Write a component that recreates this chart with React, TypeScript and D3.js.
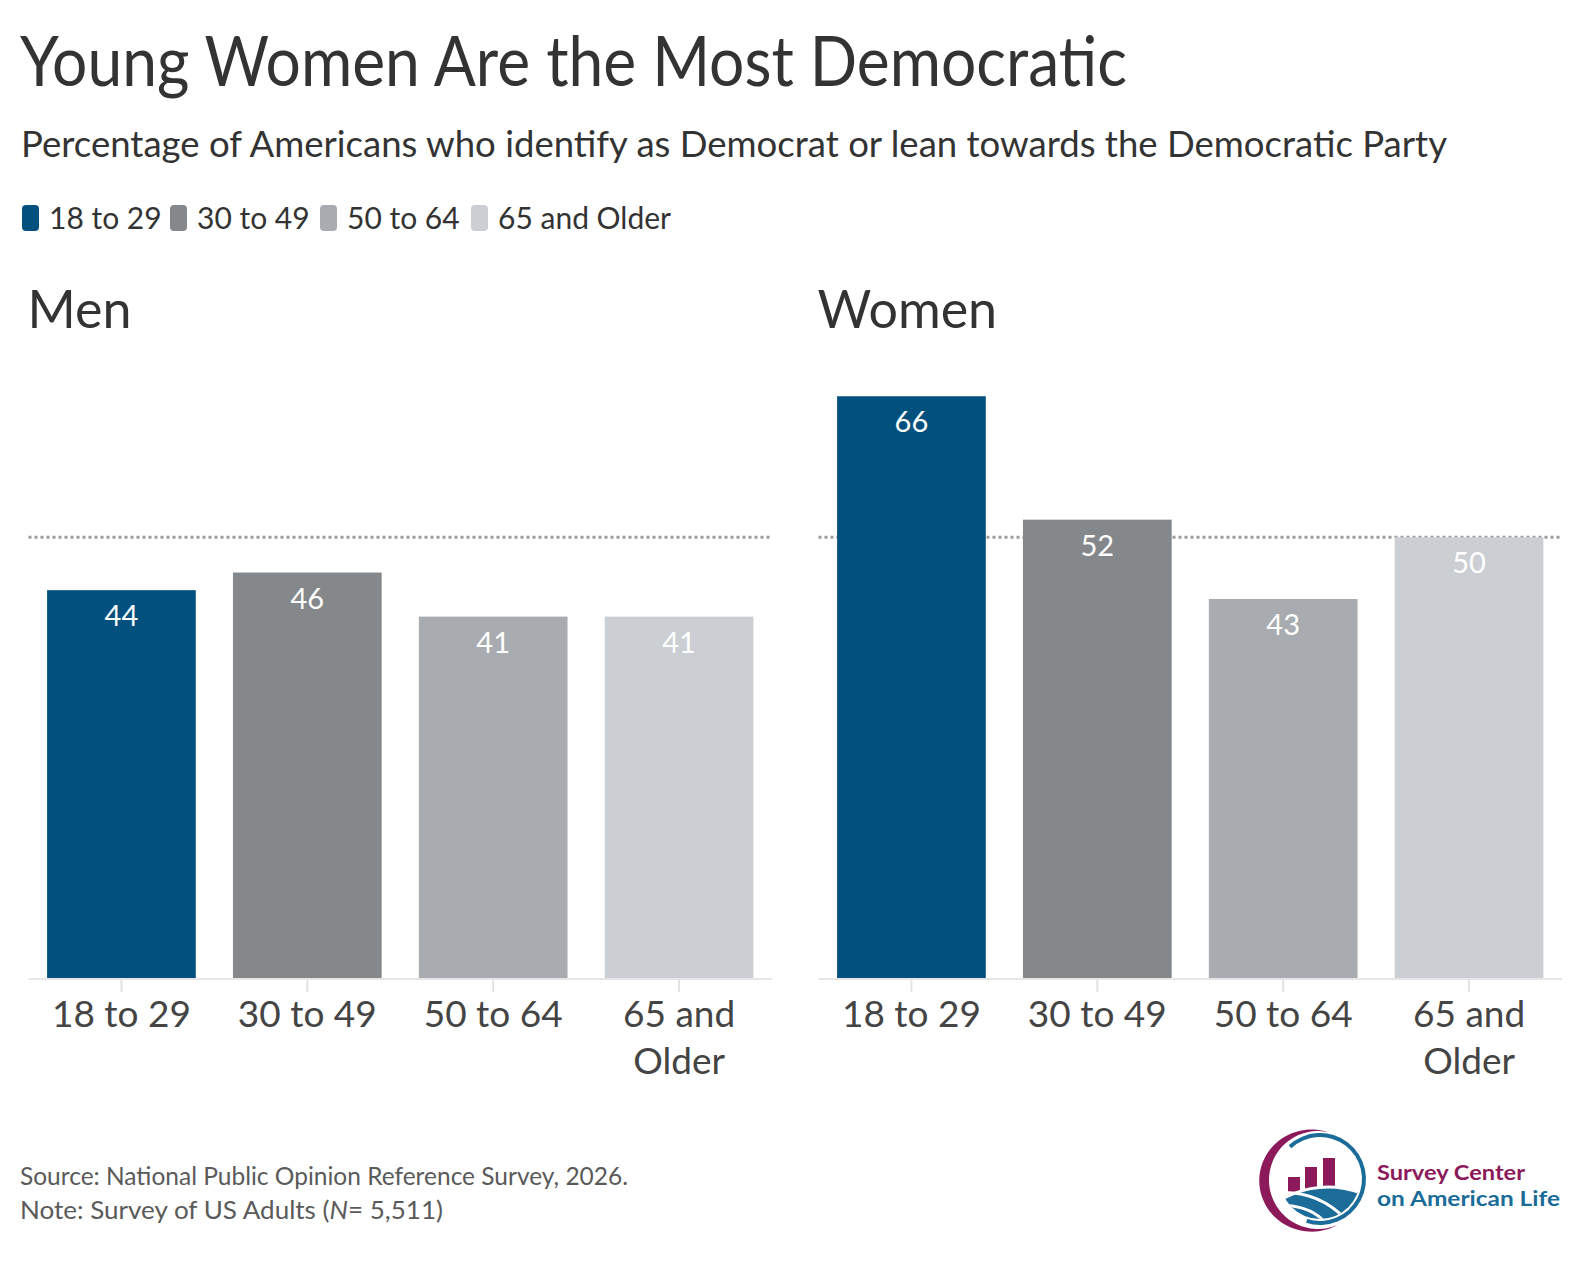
import React from "react";
import * as d3 from "d3";

const groups = ["Men", "Women"];
const ageCats = ["18 to 29", "30 to 49", "50 to 64", "65 and Older"];
const tickLabels = [["18 to 29"], ["30 to 49"], ["50 to 64"], ["65 and", "Older"]];
const menValues = [44, 46, 41, 41];
const womenValues = [66, 52, 43, 50];
const referenceValue = 50;
const colors = ["#02507d", "#85888b", "#a8abaf", "#cbced2"];

const W = 1588;
const H = 1288;
const FONT = "Lato, 'Open Sans', sans-serif";

function Logo() {
  const cx = 1320, cy = 1179;
  const ringArc = d3.arc<any>()({ innerRadius: 42, outerRadius: 46, startAngle: -0.75, endAngle: 3.45 }) as string;
  const t0 = 0.2, t1 = -3.55;
  const pts: [number, number][] = [];
  const n = 60;
  for (let i = 0; i <= n; i++) {
    const t = t0 + (t1 - t0) * (i / n);
    const r = 49;
    pts.push([cx - 2 + r * Math.sin(t), cy + 1 - r * Math.cos(t)]);
  }
  for (let i = n; i >= 0; i--) {
    const t = t0 + (t1 - t0) * (i / n);
    const w = 7 * Math.sin(Math.PI * (i / n));
    const r = 49 + w;
    pts.push([cx - 2 - w * 0.4 + r * Math.sin(t), cy + 1 - r * Math.cos(t)]);
  }
  const crescent = d3.line()(pts) + "Z";
  return (
    <g>
      <defs>
        <clipPath id="logoClip">
          <circle cx={cx} cy={cy} r={40} />
        </clipPath>
      </defs>
      <path d={ringArc} transform={`translate(${cx},${cy})`} fill="#1b6c98" />
      <path d={crescent} fill="#8c1a5b" />
      <rect x={1288} y={1177} width={12} height={20} fill="#8c1a5b" />
      <rect x={1305} y={1167} width={12} height={30} fill="#8c1a5b" />
      <rect x={1323} y={1158} width={12} height={39} fill="#8c1a5b" />
      <g clipPath="url(#logoClip)">
        <circle cx={cx + 8} cy={cy + 100} r={92} fill="#1b6c98" stroke="#fff" strokeWidth={3} />
        <path d={`M ${cx - 45} ${cy + 14} Q ${cx} ${cy + 10} ${cx + 30} ${cy + 45}`} fill="none" stroke="#fff" strokeWidth={3} />
        <path d={`M ${cx - 45} ${cy + 26} Q ${cx - 5} ${cy + 25} ${cx + 10} ${cy + 50}`} fill="none" stroke="#fff" strokeWidth={3} />
      </g>
      <text x={1377} y={1180} fontFamily={FONT} fontWeight={700} fontSize={21} fill="#8c1a5b" textLength={148} lengthAdjust="spacingAndGlyphs">Survey Center</text>
      <text x={1377} y={1206} fontFamily={FONT} fontWeight={700} fontSize={21} fill="#1b6c98" textLength={183} lengthAdjust="spacingAndGlyphs">on American Life</text>
    </g>
  );
}

function Panel({ title, values, x0, x1 }: { title: string; values: number[]; x0: number; x1: number }) {
  const x = d3.scaleBand<string>().domain(ageCats).range([x0, x1]).paddingInner(0.2).paddingOuter(0.1);
  const y = d3.scaleLinear().domain([0, 70]).range([978, 361]);
  const bw = x.bandwidth();
  return (
    <g>
      <text x={x0 - 1} y={328} fontFamily={FONT} fontSize={52} fill="#333">{title}</text>
      <line x1={x0} x2={x1 - 2} y1={y(referenceValue)} y2={y(referenceValue)} stroke="#9d9d9d" strokeWidth={3} strokeDasharray="3,3" />
      <line x1={x0} x2={x1} y1={y(0) + 1} y2={y(0) + 1} stroke="#e6e6e6" strokeWidth={2} />
      {ageCats.map((c, i) => (
        <g key={c}>
          <rect x={x(c)} y={y(values[i])} width={bw} height={y(0) - y(values[i])} fill={colors[i]} />
          <text x={(x(c) as number) + bw / 2} y={y(values[i]) + 36} textAnchor="middle" fontFamily={FONT} fontSize={29} fill="#fff">{values[i]}</text>
          <line x1={(x(c) as number) + bw / 2} x2={(x(c) as number) + bw / 2} y1={y(0) + 2} y2={y(0) + 14} stroke="#e3e3e3" strokeWidth={2} />
          {tickLabels[i].map((t, j) => (
            <text key={t} x={(x(c) as number) + bw / 2} y={1027 + j * 47} textAnchor="middle" fontFamily={FONT} fontSize={37} fill="#444">{t}</text>
          ))}
        </g>
      ))}
    </g>
  );
}

export default function App() {
  const legendX = [22, 170, 320, 471];
  return (
    <svg width={W} height={H} viewBox={`0 0 ${W} ${H}`} style={{ position: "absolute", left: 0, top: 0, background: "#fff" }}>
      <rect width={W} height={H} fill="#fff" />
      <text x={20} y={86} fontFamily={FONT} fontSize={70} fill="#333" textLength={1107} lengthAdjust="spacingAndGlyphs">Young Women Are the Most Democratic</text>
      <text x={21} y={157} fontFamily={FONT} fontSize={36} fill="#333" textLength={1426} lengthAdjust="spacingAndGlyphs">Percentage of Americans who identify as Democrat or lean towards the Democratic Party</text>
      {ageCats.map((c, i) => (
        <g key={c}>
          <rect x={legendX[i]} y={205} width={17} height={26} rx={4} fill={colors[i]} />
          <text x={legendX[i] + 27} y={229} fontFamily={FONT} fontSize={30} fill="#333">{c}</text>
        </g>
      ))}
      <Panel title={groups[0]} values={menValues} x0={28.5} x1={772} />
      <Panel title={groups[1]} values={womenValues} x0={818.5} x1={1562} />
      <text x={20} y={1185} fontFamily={FONT} fontSize={25} fill="#5a5a5a" textLength={608} lengthAdjust="spacingAndGlyphs">Source: National Public Opinion Reference Survey, 2026.</text>
      <text x={20} y={1219} fontFamily={FONT} fontSize={25} fill="#5a5a5a" textLength={423} lengthAdjust="spacingAndGlyphs">
        Note: Survey of US Adults (<tspan fontStyle="italic">N</tspan>= 5,511)
      </text>
      <Logo />
    </svg>
  );
}
